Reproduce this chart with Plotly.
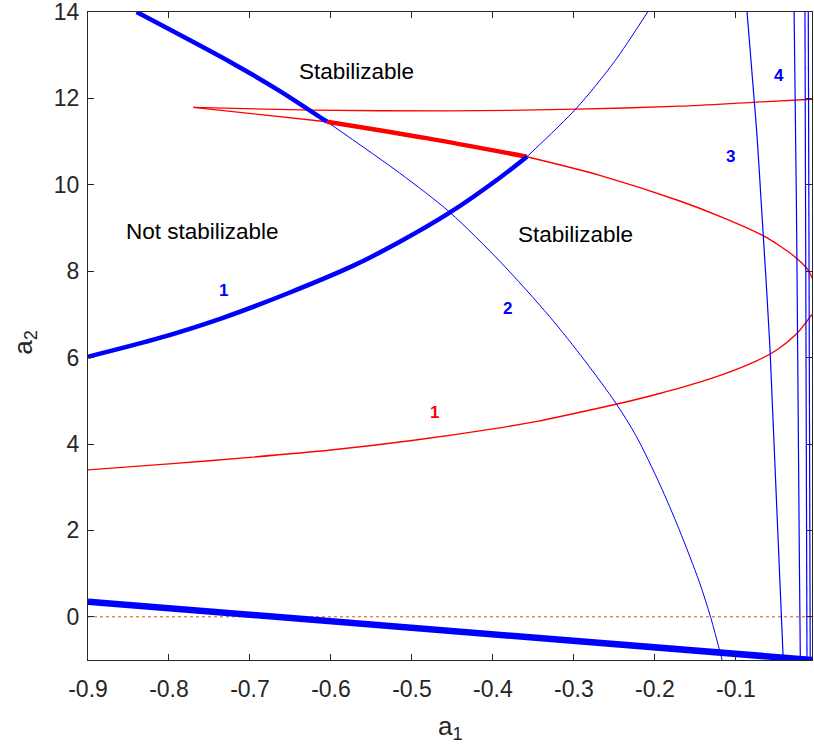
import plotly.graph_objects as go

# ---------------- data ----------------
x_ticks = [-0.9, -0.8, -0.7, -0.6, -0.5, -0.4, -0.3, -0.2, -0.1]
x_tick_labels = ["-0.9", "-0.8", "-0.7", "-0.6", "-0.5", "-0.4", "-0.3", "-0.2", "-0.1"]
y_ticks = [0, 2, 4, 6, 8, 10, 12, 14]

# blue boundary curves
blue_bottom_x = [-0.9, -0.006]
blue_bottom_y = [0.35, -1.0]

blue1_thick_x = [-0.9, -0.818, -0.735, -0.653, -0.571, -0.515, -0.453, -0.391, -0.358]
blue1_thick_y = [6.02, 6.42, 6.91, 7.49, 8.14, 8.68, 9.36, 10.17, 10.65]
blue1_thin_x = [-0.358, -0.297, -0.25, -0.209]
blue1_thin_y = [10.65, 11.77, 12.85, 14.0]

blue2_thick_x = [-0.84, -0.725, -0.663, -0.605]
blue2_thick_y = [14.0, 12.85, 12.17, 11.46]
blue2_thin_x = [-0.605, -0.515, -0.453, -0.391, -0.33, -0.287, -0.248, -0.223, -0.194, -0.17, -0.145, -0.131, -0.117]
blue2_thin_y = [11.46, 10.27, 9.36, 8.22, 6.95, 5.94, 4.94, 4.18, 3.07, 2.02, 0.8, -0.02, -1.0]

blue3_x = [-0.0862, -0.0744, -0.0689, -0.0578, -0.0415]
blue3_y = [14.0, 11.27, 9.65, 6.18, -1.0]
blue4_x = [-0.0281, -0.0253, -0.0237, -0.0216, -0.0204]
blue4_y = [14.0, 9.65, 6.18, 1.31, -1.0]
blue5_x = [-0.0147, -0.0122]
blue5_y = [14.0, -1.0]
blue6_x = [-0.0106, -0.0082]
blue6_y = [14.0, -1.0]

# red curves
red_lower_x = [-0.9, -0.8, -0.7, -0.6, -0.5, -0.4, -0.344, -0.318, -0.248, -0.194, -0.133, -0.075, -0.05, -0.025, -0.006]
red_lower_y = [3.40, 3.54, 3.69, 3.86, 4.08, 4.35, 4.53, 4.63, 4.92, 5.17, 5.5, 5.92, 6.17, 6.55, 7.0]

red_upper_x = [-0.006, -0.079, -0.169, -0.297, -0.457, -0.622, -0.77]
red_upper_y = [11.98, 11.91, 11.82, 11.75, 11.71, 11.73, 11.79]
red_left_x = [-0.77, -0.605]
red_left_y = [11.79, 11.46]

red_thick_x = [-0.605, -0.482, -0.358]
red_thick_y = [11.46, 11.08, 10.65]

red_mid_x = [-0.358, -0.268, -0.17, -0.116, -0.067, -0.046, -0.025, -0.011, -0.006]
red_mid_y = [10.65, 10.22, 9.63, 9.24, 8.83, 8.59, 8.3, 8.03, 7.85]

zero_x = [-0.9, -0.006]
zero_y = [0, 0]

# annotations
region_texts = ["Stabilizable", "Not stabilizable", "Stabilizable"]
region_x = [-0.568, -0.759, -0.298]
region_y = [12.63, 8.93, 8.84]

blue_num_texts = ["1", "2", "3", "4"]
blue_num_x = [-0.733, -0.382, -0.107, -0.047]
blue_num_y = [7.56, 7.13, 10.65, 12.52]

red_num_texts = ["1"]
red_num_x = [-0.472]
red_num_y = [4.72]

# ---------------- figure ----------------
BLUE = "#0000FF"
RED = "#FF0000"
FONT = "Liberation Sans, Arial, Helvetica"
AXC = "#262626"
fig = go.Figure()


def line(x, y, color, width, dash="solid", smooth=True):
    fig.add_trace(go.Scatter(x=x, y=y, mode="lines",
                             line=dict(color=color, width=width, dash=dash,
                                       shape="spline" if smooth else "linear",
                                       smoothing=0.8 if smooth else None),
                             showlegend=False, hoverinfo="skip"))


line(zero_x, zero_y, "#D95319", 1, "dot", smooth=False)
line(red_lower_x, red_lower_y, RED, 1.4)
line(red_upper_x, red_upper_y, RED, 1.3)
line(red_left_x, red_left_y, RED, 1.3, smooth=False)
line(red_mid_x, red_mid_y, RED, 1.4)
line(blue1_thin_x, blue1_thin_y, BLUE, 1)
line(blue2_thin_x, blue2_thin_y, BLUE, 1)
line(blue3_x, blue3_y, BLUE, 1.2)
line(blue4_x, blue4_y, BLUE, 1.2)
line(blue5_x, blue5_y, BLUE, 1.2, smooth=False)
line(blue6_x, blue6_y, BLUE, 1.2, smooth=False)
line(red_thick_x, red_thick_y, RED, 4.5)
line(blue1_thick_x, blue1_thick_y, BLUE, 4.5)
line(blue2_thick_x, blue2_thick_y, BLUE, 4.5)
line(blue_bottom_x, blue_bottom_y, BLUE, 6.5, smooth=False)

annotations = []
for t, x, y in zip(region_texts, region_x, region_y):
    annotations.append(dict(x=x, y=y, xref="x", yref="y", text=t, showarrow=False,
                            font=dict(size=22.5, color="#000000", family=FONT)))
for t, x, y in zip(blue_num_texts, blue_num_x, blue_num_y):
    annotations.append(dict(x=x, y=y, xref="x", yref="y", text=f"<b>{t}</b>", showarrow=False,
                            font=dict(size=17, color=BLUE, family=FONT)))
for t, x, y in zip(red_num_texts, red_num_x, red_num_y):
    annotations.append(dict(x=x, y=y, xref="x", yref="y", text=f"<b>{t}</b>", showarrow=False,
                            font=dict(size=17, color=RED, family=FONT)))
# axis titles
annotations.append(dict(x=0.5, y=-0.104, xref="paper", yref="paper", text="a<sub>1</sub>",
                        showarrow=False, xanchor="center", yanchor="middle",
                        font=dict(size=26, color=AXC, family=FONT)))
annotations.append(dict(x=-0.088, y=0.49, xref="paper", yref="paper", text="a<sub>2</sub>",
                        showarrow=False, xanchor="center", yanchor="middle", textangle=-90,
                        font=dict(size=26, color=AXC, family=FONT)))

axis_common = dict(showline=True, linecolor=AXC, linewidth=1, mirror="ticks",
                   ticks="inside", ticklen=6, tickcolor=AXC, showgrid=False, zeroline=False,
                   automargin=False, ticklabeloverflow="allow",
                   tickfont=dict(size=23, color=AXC, family=FONT))

fig.update_layout(
    width=814, height=751,
    margin=dict(l=88, r=2, t=12, b=91),
    paper_bgcolor="white", plot_bgcolor="white",
    annotations=annotations,
    xaxis=dict(range=[-0.9, -0.006], tickvals=x_ticks, ticktext=x_tick_labels,
               ticklabelstandoff=8, **axis_common),
    yaxis=dict(range=[-1, 14], tickvals=y_ticks,
               ticklabelstandoff=3, **axis_common),
)

# remove the default page margin so the figure starts at the window's corner
fig.write_html("out.html", config={"displayModeBar": False},
               post_script="document.body.style.margin='0';")
